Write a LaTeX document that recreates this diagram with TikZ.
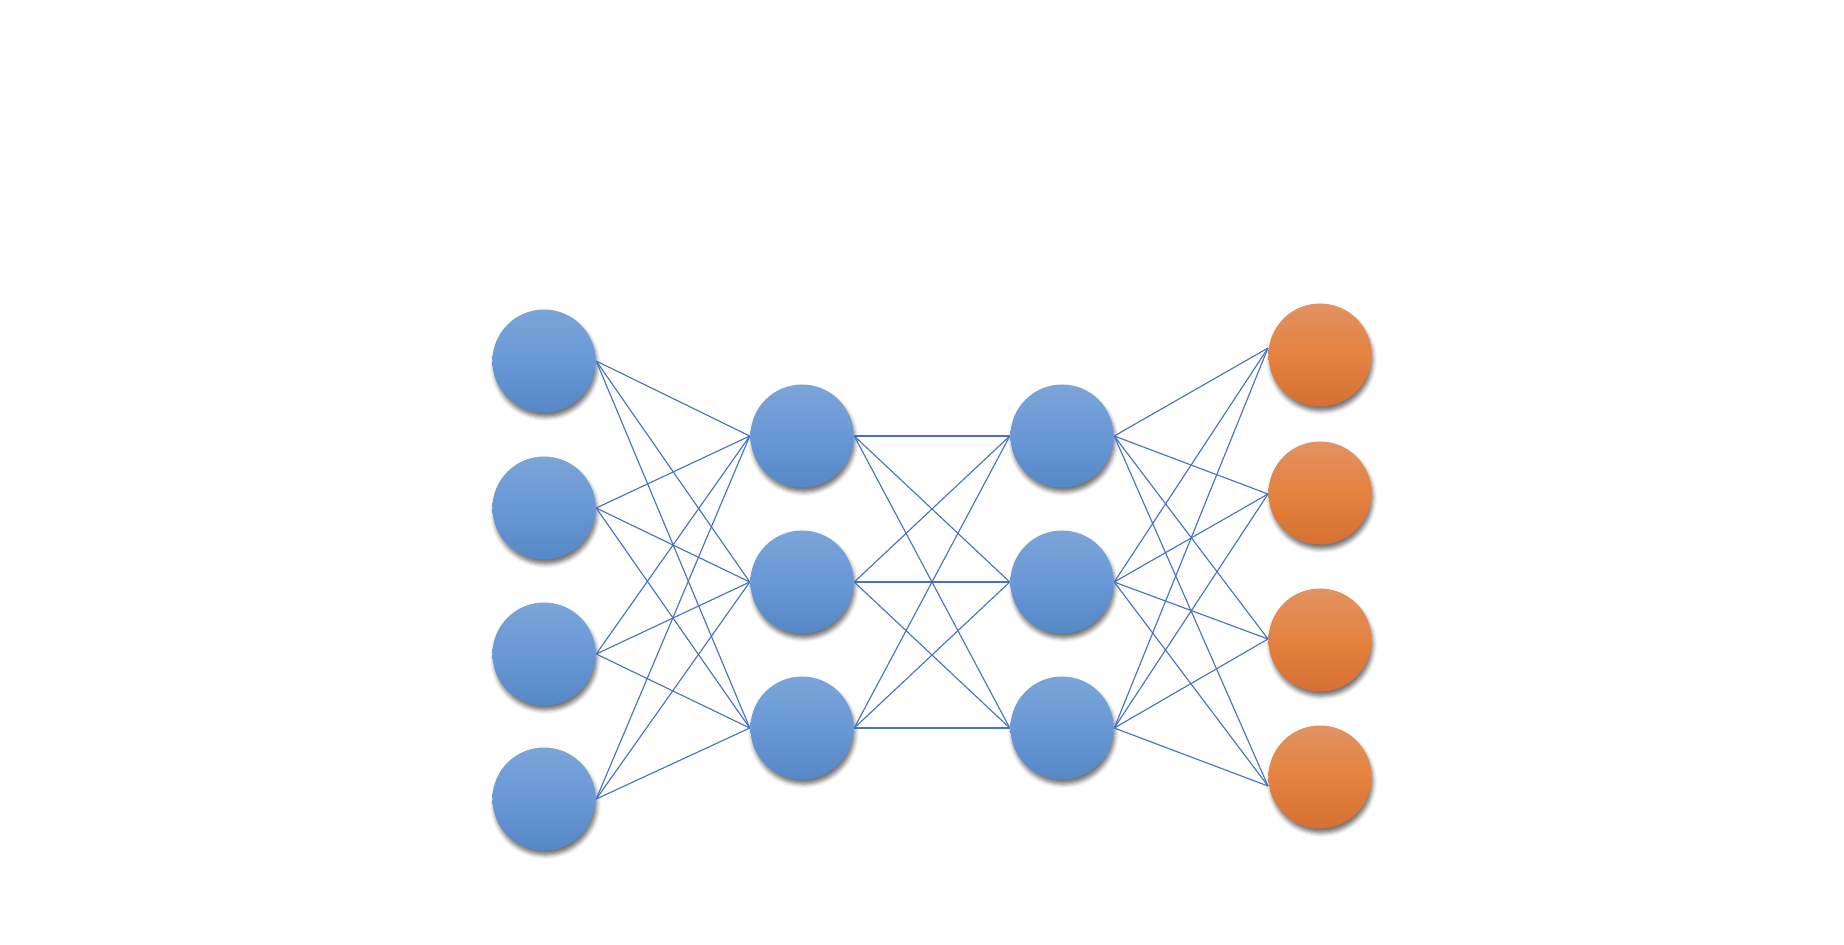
\documentclass[tikz,border=0pt]{standalone}
\usetikzlibrary{shadows.blur}
\definecolor{bluetop}{RGB}{124,165,216}
\definecolor{bluemid}{RGB}{104,152,213}
\definecolor{bluebot}{RGB}{85,136,198}
\definecolor{orangetop}{RGB}{226,146,98}
\definecolor{orangemid}{RGB}{228,130,64}
\definecolor{orangebot}{RGB}{213,112,50}
\definecolor{linkblue}{RGB}{68,114,196}
\tikzset{
  neuron/.style={circle, minimum size=1.03cm, inner sep=0pt,
    blur shadow={shadow xshift=0.015cm, shadow yshift=-0.045cm,
      shadow blur radius=0.04cm, shadow opacity=55}},
  hidden/.style={neuron, top color=bluetop, bottom color=bluebot, middle color=bluemid},
  output/.style={neuron, top color=orangetop, bottom color=orangebot, middle color=orangemid},
  link/.style={draw=linkblue, line width=0.32pt}
}
\begin{document}
\begin{tikzpicture}[x=0.01cm, y=-0.01cm]
\useasboundingbox (0,0) rectangle (1844,944);

% input layer
\node[hidden] (i1) at (544, 361) {};
\node[hidden] (i2) at (544, 508) {};
\node[hidden] (i3) at (544, 654) {};
\node[hidden] (i4) at (544, 799) {};
% first hidden layer
\node[hidden] (h1) at (802, 436) {};
\node[hidden] (h2) at (802, 582) {};
\node[hidden] (h3) at (802, 728) {};
% second hidden layer
\node[hidden] (g1) at (1062, 436) {};
\node[hidden] (g2) at (1062, 582) {};
\node[hidden] (g3) at (1062, 728) {};
% output layer
\node[output] (o1) at (1320, 355) {};
\node[output] (o2) at (1320, 493) {};
\node[output] (o3) at (1320, 640) {};
\node[output] (o4) at (1320, 777) {};
%	connector ends on the output layer
\coordinate (o1in) at (1268, 348);
\coordinate (o2in) at (1268, 494);
\coordinate (o3in) at (1268, 639);
\coordinate (o4in) at (1268, 786);

\foreach \a in {1,...,4}
  \foreach \b in {1,2,3}
    \draw[link] (i\a.east) -- (h\b.west);
\foreach \a in {1,2,3}
  \foreach \b in {1,2,3}
    \draw[link] (h\a.east) -- (g\b.west);
\foreach \a in {1,2,3}
  \foreach \b in {1,...,4}
    \draw[link] (g\a.east) -- (o\b in);

\end{tikzpicture}
\end{document}
